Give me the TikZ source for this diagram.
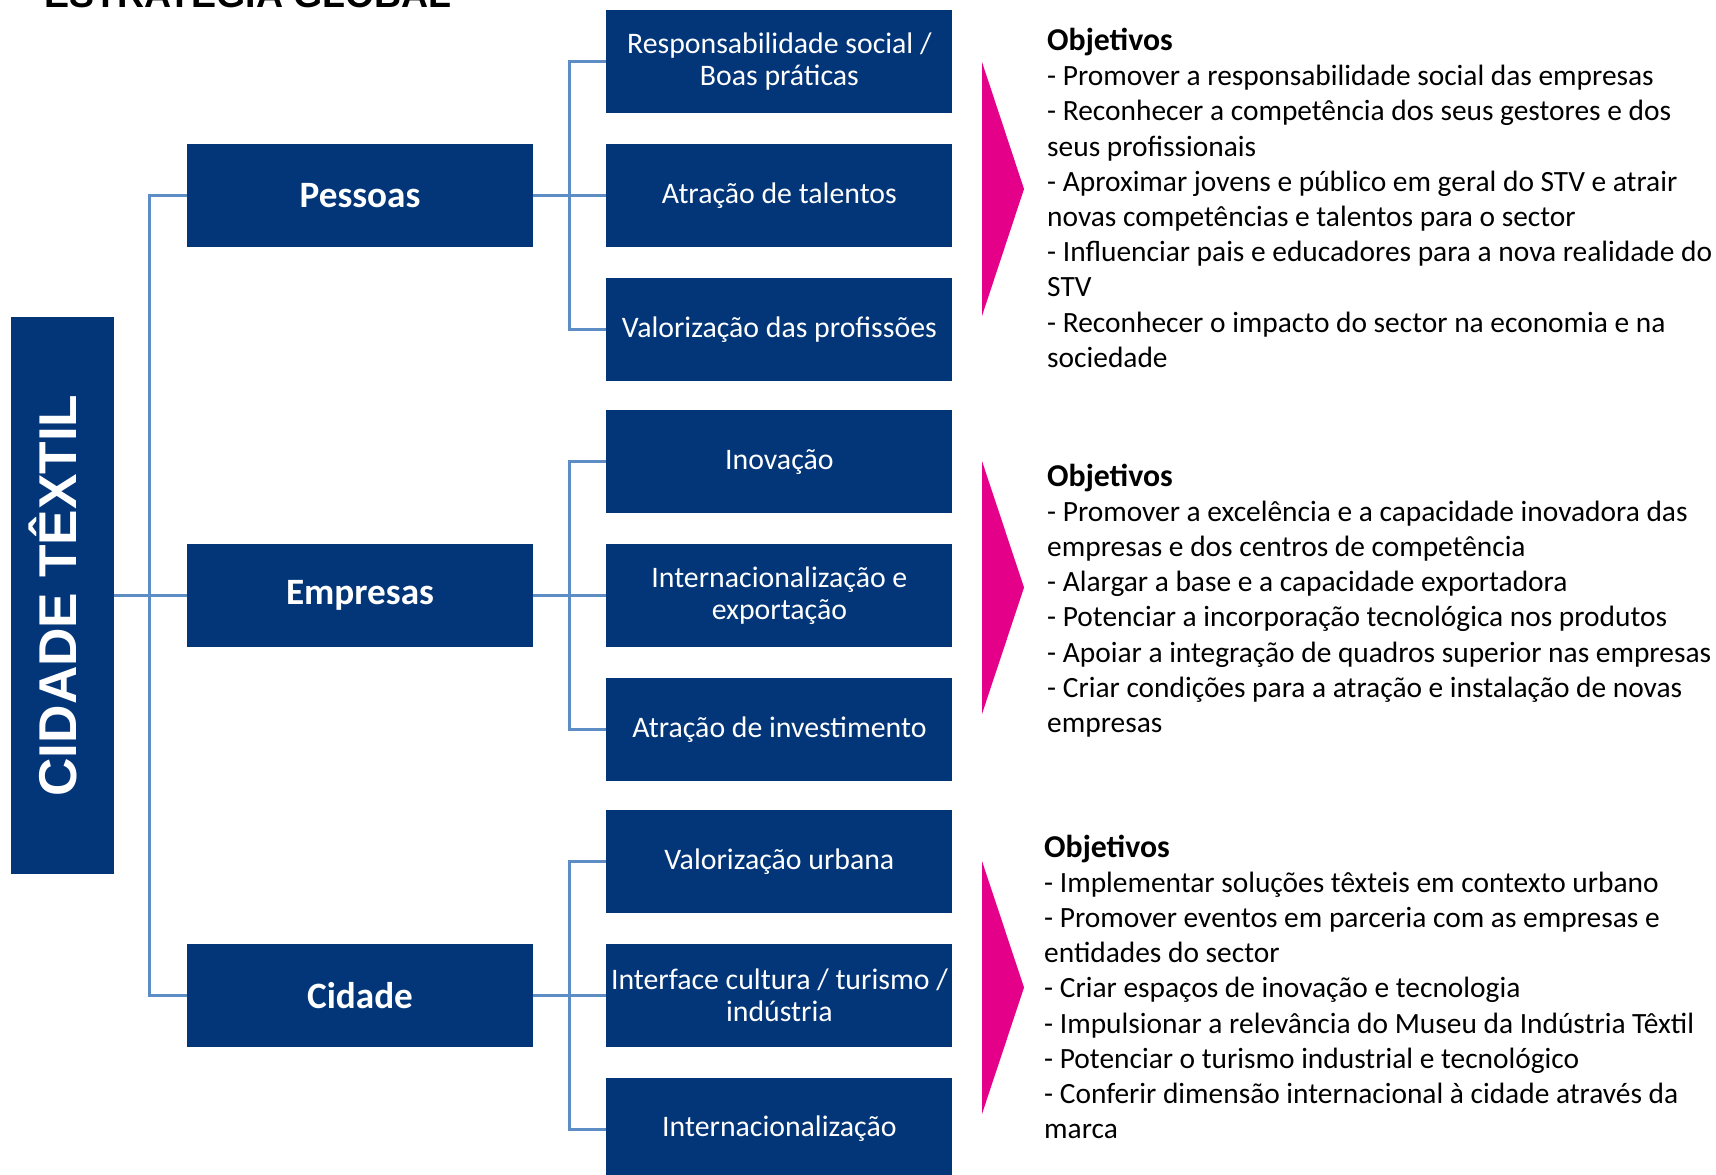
\documentclass[tikz,border=0pt]{standalone}
\usepackage{fontspec}
\setmainfont{Carlito}
\newfontfamily\arialfont{Liberation Sans}
\usetikzlibrary{positioning}

\definecolor{navy}{RGB}{3,54,120}
\definecolor{linkblue}{RGB}{92,141,197}
\definecolor{goalpink}{RGB}{228,0,137}

\newcommand{\goalhead}{{\fontsize{31.8}{35.2}\selectfont\bfseries Objetivos}}

\tikzset{
	mainbox/.style={fill=navy, text=white, minimum width=103pt,
		minimum height=557pt, inner sep=0pt},
	groupbox/.style={fill=navy, text=white, minimum width=346pt,
		minimum height=103pt, inner sep=0pt,
		font=\fontsize{37.2}{44}\selectfont\bfseries},
	itembox/.style={fill=navy, text=white, minimum width=346pt,
		minimum height=103pt, inner sep=0pt, align=center,
		font=\fontsize{29.8}{32}\selectfont},
	link/.style={draw=linkblue, line width=3pt},
	goals/.style={anchor=base west, align=left, inner sep=0pt,
		font=\fontsize{29.4}{35.2}\selectfont},
	goalarrow/.style={fill=goalpink}
}

\begin{document}
\begin{tikzpicture}[x=1pt, y=1pt]

\useasboundingbox (0,0) rectangle (1716,-1175);

% Title, cut at the top
\node[anchor=base west, inner sep=0pt,
		font=\arialfont\bfseries\fontsize{37.5}{44}\selectfont] (title) at (44,-7) {ESTRATÉGIA GLOBAL};

% Add the groups
\node[groupbox] (empresas) at (360,-595.5) {Empresas};

\node[groupbox,
		above=296.5pt of empresas] (pessoas) {Pessoas};

\node[groupbox,
		below=296.5pt of empresas] (cidade) {Cidade};

\node[mainbox,
		left=73pt of empresas] (cidadetextil) {\rotatebox{90}{\raisebox{9pt}[\height][\depth]{\arialfont\bfseries\fontsize{53.2}{60}\selectfont CIDADE TÊXTIL}}};

% Add the items of each group
\node[itembox, right=73pt of pessoas] (talentos) {Atração de talentos};
\node[itembox, above=30.3pt of talentos] (social) {Responsabilidade social /\\Boas práticas};
\node[itembox, below=30.3pt of talentos] (profissoes) {Valorização das profissões};

\node[itembox, right=73pt of empresas] (exportacao) {Internacionalização e\\exportação};
\node[itembox, above=30.3pt of exportacao] (inovacao) {Inovação};
\node[itembox, below=30.3pt of exportacao] (investimento) {Atração de investimento};

\node[itembox, right=73pt of cidade] (interface) {Interface cultura / turismo /\\indústria};
\node[itembox, above=30.3pt of interface] (urbana) {Valorização urbana};
\node[itembox, below=30.3pt of interface] (internacional) {Internacionalização};

% Connectors
\draw[link] (cidadetextil.east) -- (empresas.west);
\draw[link] (pessoas.west) -- ++(-37,0) |- (cidade.west);

\draw[link] (pessoas.east) -- (talentos.west);
\draw[link] (social.west) -- ++(-37,0) |- (profissoes.west);

\draw[link] (empresas.east) -- (exportacao.west);
\draw[link] (inovacao.west) -- ++(-37,0) |- (investimento.west);

\draw[link] (cidade.east) -- (interface.west);
\draw[link] (urbana.west) -- ++(-37,0) |- (internacional.west);

% Pink arrows
\fill[goalarrow] (982,-62) -- (1024,-189) -- (982,-316) -- cycle;
\fill[goalarrow] (982,-461) -- (1024,-587.5) -- (982,-714) -- cycle;
\fill[goalarrow] (982,-861) -- (1024,-987.5) -- (982,-1114) -- cycle;

% Objectives (placed by the baseline of their last line)
\node[goals] (goalspessoas) at (1047,-367.3) {\goalhead\\
- Promover a responsabilidade social das empresas\\
- Reconhecer a competência dos seus gestores e dos\\
seus profissionais\\
- Aproximar jovens e público em geral do STV e atrair\\
novas competências e talentos para o sector\\
- Influenciar pais e educadores para a nova realidade do\\
STV\\
- Reconhecer o impacto do sector na economia e na\\
sociedade};

\node[goals] (goalsempresas) at (1047,-732.4) {\goalhead\\
- Promover a excelência e a capacidade inovadora das\\
empresas e dos centros de competência\\
- Alargar a base e a capacidade exportadora\\
- Potenciar a incorporação tecnológica nos produtos\\
- Apoiar a integração de quadros superior nas empresas\\
- Criar condições para a atração e instalação de novas\\
empresas};

\node[goals] (goalscidade) at (1044,-1138.6) {\goalhead\\
- Implementar soluções têxteis em contexto urbano\\
- Promover eventos em parceria com as empresas e\\
entidades do sector\\
- Criar espaços de inovação e tecnologia\\
- Impulsionar a relevância do Museu da Indústria Têxtil\\
- Potenciar o turismo industrial e tecnológico\\
- Conferir dimensão internacional à cidade através da\\
marca};

\end{tikzpicture}
\end{document}
